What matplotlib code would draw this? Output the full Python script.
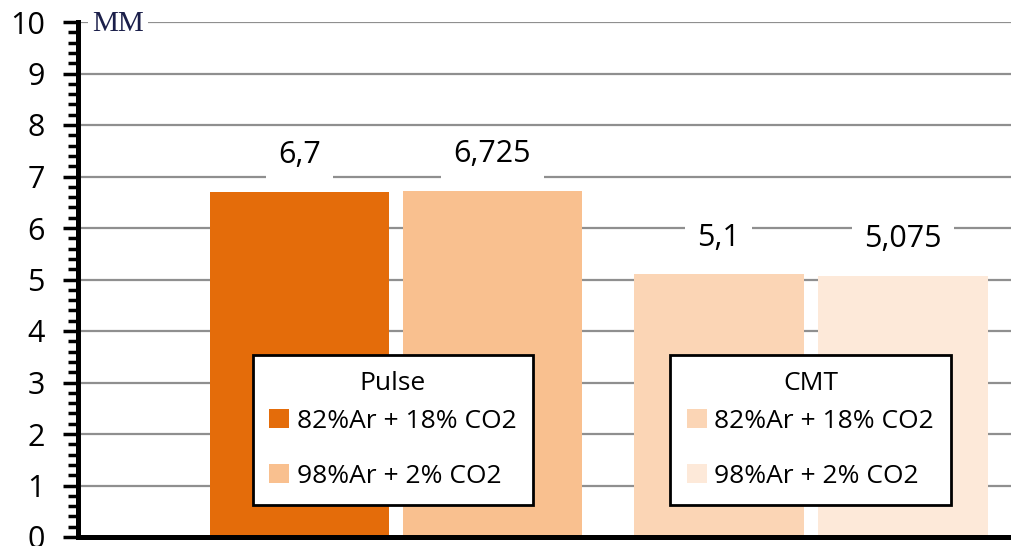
import matplotlib.pyplot as plt
from matplotlib.patches import Patch
from matplotlib.ticker import MultipleLocator

# ---- data ----
modes = ["Pulse", "CMT"]
gases = ["82%Ar + 18% CO2", "98%Ar + 2% CO2"]
pulse_vals = [6.7, 6.725]
cmt_vals = [5.1, 5.075]
pulse_labels = ["6,7", "6,725"]
cmt_labels = ["5,1", "5,075"]
pulse_colors = ["#E46C0A", "#F9C08F"]
cmt_colors = ["#FBD5B5", "#FDE9D9"]
unit = "MM"

# ---- layout (x axis in hundreds of pixels from the y axis) ----
group_centers = [3.18, 7.33]
half_steps = [0.965, 0.9225]
bar_widths = [1.79, 1.70]

plt.rcParams['font.family'] = ['Open Sans', 'DejaVu Sans']

fig = plt.figure(figsize=(10.11, 5.46), dpi=100)
ax = fig.add_axes([78 / 1011, 9 / 546, 1 - 78 / 1011, (537 - 22) / 546])

for gi, (vals, labels, colors) in enumerate(zip([pulse_vals, cmt_vals],
                                                [pulse_labels, cmt_labels],
                                                [pulse_colors, cmt_colors])):
    for bi, (v, lab, c) in enumerate(zip(vals, labels, colors)):
        x = group_centers[gi] + (bi * 2 - 1) * half_steps[gi]
        ax.bar(x, v, width=bar_widths[gi], color=c, zorder=2)
        ax.annotate(lab, (x, v), xytext=(0, 26.5), textcoords='offset points',
                    ha='center', va='center', fontsize=22, zorder=4,
                    bbox=dict(boxstyle='square,pad=0.4', fc='white', ec='none'))

ax.set_xlim(0, 9.33)
ax.set_ylim(0, 10)
ax.yaxis.set_major_locator(MultipleLocator(1))
ax.yaxis.set_minor_locator(MultipleLocator(0.2))
ax.tick_params(axis='y', which='major', direction='out', length=11, width=2.5,
               labelsize=22, pad=13)
ax.tick_params(axis='y', which='minor', direction='out', length=7, width=2.5)
ax.tick_params(axis='x', bottom=False, labelbottom=False)
ax.grid(axis='y', which='major', color='#8f8f8f', linewidth=1.6, zorder=1)
ax.set_axisbelow(True)

for side in ['top', 'right']:
    ax.spines[side].set_visible(False)
ax.spines['left'].set_linewidth(3.6)
ax.spines['bottom'].set_linewidth(3.6)
ax.spines['left'].set_zorder(5)
ax.spines['bottom'].set_zorder(5)

ax.text(0.14, 9.97, unit, family=['Liberation Serif', 'DejaVu Serif'], fontsize=21,
        color='#1b1f4a', ha='left', va='center', zorder=4, clip_on=False,
        bbox=dict(boxstyle='square,pad=0.15', fc='white', ec='none'))

# one legend per welding mode
legend_centers = [(393, 430), (810.5, 430)]
legends = []
for mode, colors, (cx, cy) in zip(modes, [pulse_colors, cmt_colors], legend_centers):
    handles = [Patch(facecolor=c, edgecolor='none') for c in colors]
    leg = ax.legend(handles, gases, title=mode, loc='center',
                    bbox_to_anchor=(cx / 1011, 1 - cy / 546),
                    bbox_transform=fig.transFigure, fontsize=19, title_fontsize=19,
                    fancybox=False, framealpha=1, edgecolor='black',
                    handlelength=0.75, handleheight=0.75, handletextpad=0.3,
                    labelspacing=1.15, borderpad=0.62, borderaxespad=0)
    # tighter gap between the title and the first entry
    leg._legend_box.sep = 0.47 * 19
    leg.get_frame().set_linewidth(2)
    leg.set_zorder(6)
    legends.append(leg)
ax.add_artist(legends[0])

fig.savefig("out.png", dpi=100)
